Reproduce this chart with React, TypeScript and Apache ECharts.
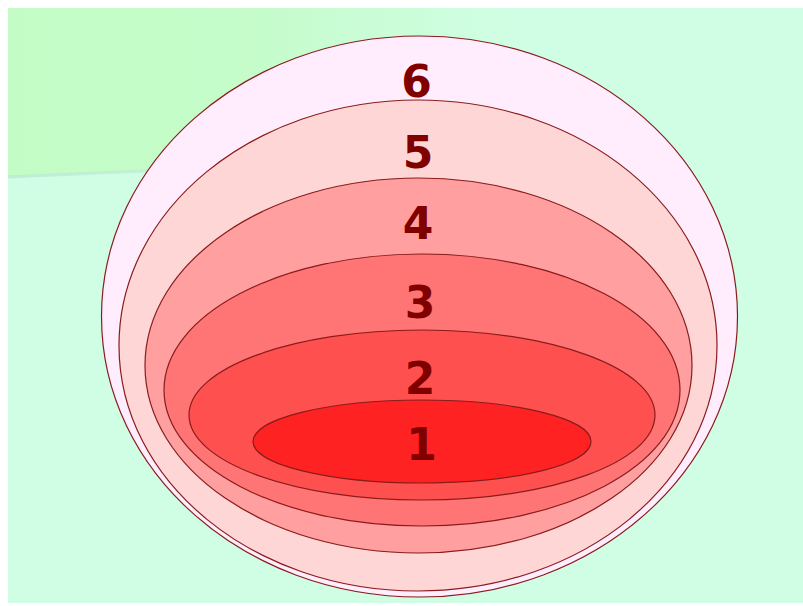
import React, { useEffect, useRef } from "react";
import * as echarts from "echarts";

// Levels drawn from the outermost (6) to the innermost (1)
const levels = ["6", "5", "4", "3", "2", "1"];
const centerX = [411.5, 410, 410.5, 414, 414, 414];
const centerY = [308.5, 337.5, 357.5, 382, 407, 433.5];
const radiusX = [318, 299, 273.5, 258, 233, 169];
const radiusY = [280.5, 245.5, 187.5, 136, 85, 41.5];
const labelX = [408.5, 410, 410, 412, 412, 413.5];
const labelY = [73, 144, 215, 294, 370, 436];
const fills = ["#ffecfd", "#ffd6d6", "#ff9f9f", "#ff7474", "#ff5050", "#ff2222"];

export default function App() {
  const ref = useRef<HTMLDivElement>(null);
  useEffect(() => {
    const chart = echarts.init(ref.current!, null, { renderer: "svg" });
    const data = levels.map((l, i) => [centerX[i], centerY[i], radiusX[i], radiusY[i], labelX[i], labelY[i], i]);
    chart.setOption({
      animation: false,
      backgroundColor: "#d0fee5",
      grid: { left: 0, right: 0, top: 0, bottom: 0 },
      xAxis: { type: "value", min: 0, max: 795, show: false },
      yAxis: { type: "value", min: 0, max: 595, inverse: true, show: false },
      graphic: [
        {
          type: "polygon",
          z: -10,
          shape: { points: [[0, 0], [795, 0], [795, 133], [0, 168]] },
          style: {
            fill: new echarts.graphic.LinearGradient(0, 0, 1, 0, [
              { offset: 0, color: "#c4fcc6" },
              { offset: 0.3, color: "#c5fcca" },
              { offset: 0.65, color: "#d0fee5" },
              { offset: 1, color: "#d0fee5" },
            ]),
          },
        },
        {
          type: "polyline",
          z: -9,
          shape: { points: [[0, 169], [795, 134]] },
          style: {
            stroke: new echarts.graphic.LinearGradient(0, 0, 1, 0, [
              { offset: 0, color: "rgba(170,215,200,0.45)" },
              { offset: 0.35, color: "rgba(170,215,200,0.25)" },
              { offset: 0.6, color: "rgba(170,215,200,0)" },
              { offset: 1, color: "rgba(170,215,200,0)" },
            ]),
            lineWidth: 3,
            fill: null,
          },
        },
      ],
      series: [
        {
          type: "custom",
          coordinateSystem: "cartesian2d",
          data,
          renderItem: (params: any, api: any) => {
            const c = api.coord([api.value(0), api.value(1)]);
            const s = api.size([api.value(2), api.value(3)]);
            const lp = api.coord([api.value(4), api.value(5)]);
            const idx = api.value(6);
            return {
              type: "group",
              children: [
                {
                  type: "ellipse",
                  shape: { cx: c[0], cy: c[1], rx: s[0], ry: s[1] },
                  style: { fill: fills[idx], stroke: "#8a1c1c", lineWidth: 1.2 },
                },
                {
                  type: "text",
                  x: lp[0],
                  y: lp[1],
                  style: {
                    text: levels[idx],
                    fill: "#800000",
                    font: "bold 44px 'DejaVu Sans', Verdana, sans-serif",
                    align: "center",
                    verticalAlign: "middle",
                  },
                },
              ],
            };
          },
        },
      ],
    });
    return () => chart.dispose();
  }, []);
  return (
    <div
      ref={ref}
      style={{ position: "fixed", left: 8, top: 8, width: 795, height: 595 }}
    />
  );
}
